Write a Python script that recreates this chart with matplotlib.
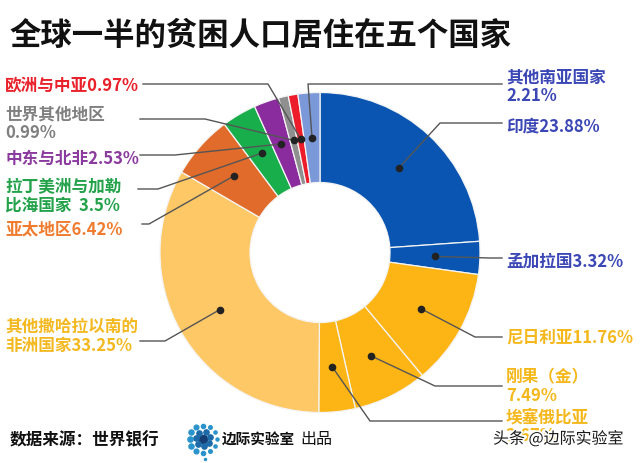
import numpy as np
import matplotlib
matplotlib.use("Agg")
import matplotlib.pyplot as plt
import matplotlib.patheffects as pe

plt.rcParams['font.family'] = ['Noto Sans CJK SC', 'DejaVu Sans']

# ---------------- data ----------------
categories = ['印度', '孟加拉国', '尼日利亚', '刚果（金）', '埃塞俄比亚',
              '其他撒哈拉以南的非洲国家', '亚太地区', '拉丁美洲与加勒比海国家',
              '中东与北非', '世界其他地区', '欧洲与中亚', '其他南亚国家']
values = [23.88, 3.32, 11.76, 7.49, 3.67, 33.25, 6.42, 3.5, 2.53, 0.99, 0.97, 2.21]
label_texts = ['印度23.88%', '孟加拉国3.32%', '尼日利亚11.76%', '刚果（金）\n7.49%',
               '埃塞俄比亚\n3.67%', '其他撒哈拉以南的\n非洲国家33.25%', '亚太地区6.42%',
               '拉丁美洲与加勒\n比海国家  3.5%', '中东与北非2.53%', '世界其他地区\n0.99%',
               '欧洲与中亚0.97%', '其他南亚国家\n2.21%']
title = '全球一半的贫困人口居住在五个国家'
source = '数据来源：世界银行'

# ---------------- style ----------------
slice_colors = ['#0a55b1', '#0a55b1', '#fcb515', '#fcb515', '#fcb515', '#fec866',
                '#e06b2a', '#19ae4c', '#8a2c9e', '#8f8f8f', '#ed1c2a', '#7b98d9']
text_colors = ['#3b47b5', '#3b47b5', '#f5b81c', '#f5b81c', '#f5b81c', '#f4b920',
               '#f07b2f', '#23a24a', '#8b3a9e', '#808080', '#e8212b', '#3b47b5']

# label layout in pixel coords: (text_x, text_y, ha, elbow_xy, end_xy)
layout = [
    (506, 127, 'left', (440, 124), (502, 124)),
    (506, 262, 'left', (490, 259), (502, 259)),
    (506, 338, 'left', (475, 338), (502, 338)),
    (506, 387, 'left', (435, 387), (502, 387)),
    (506, 427, 'left', (370, 422), (502, 422)),
    (5, 337, 'left', (165, 342), (140, 342)),
    (5, 230, 'left', (149, 225), (142, 225)),
    (5, 196, 'left', (158, 190), (138, 190)),
    (5, 159, 'left', (175, 156), (140, 156)),
    (5, 124, 'left', (205, 120), (140, 120)),
    (5, 85, 'left', (268, 85), (143, 85)),
    (506, 87, 'left', (308, 85), (502, 85)),
]

W, H = 640, 464
CX, CY, R = 320, 253.5, 160.0


def px(x, y):
    return ((x - CX) / R, (CY - y) / R)


fig = plt.figure(figsize=(6.4, 4.64), dpi=100)
ax = fig.add_axes([0, 0, 1, 1])

wedges, _ = ax.pie(values, radius=1, startangle=90, counterclock=False,
                   colors=slice_colors,
                   wedgeprops=dict(width=0.5625, edgecolor='#f4f4f4', linewidth=0.9))

ax.set_xlim(-CX / R, (W - CX) / R)
ax.set_ylim((CY - H) / R, CY / R)
ax.set_aspect('equal')
ax.axis('off')

r_dot = 0.72
for w, txt, tc, (tx, ty, ha, elbow, end) in zip(wedges, label_texts, text_colors, layout):
    ang = np.deg2rad((w.theta1 + w.theta2) / 2)
    dx, dy = r_dot * np.cos(ang), r_dot * np.sin(ang)
    ex, ey = px(*elbow)
    fx, fy = px(*end)
    ax.plot([dx, ex, fx], [dy, ey, fy], color='#555555', lw=1.0, zorder=3)
    ax.plot([dx], [dy], 'o', color='#222222', ms=4.5, zorder=4)
    x0, y0 = px(tx, ty)
    ax.text(x0, y0, txt, ha=ha, va='center', color=tc, fontsize=12,
            fontweight='bold', linespacing=1.05, zorder=5)

# title
fig.text(9 / W, 1 - 36 / H, title, ha='left', va='center', fontsize=22.6,
         fontweight='bold', color='#111111')

# source
fig.text(10 / W, 1 - 440 / H, source, ha='left', va='center', fontsize=12,
         fontweight='bold', color='#111111')

# logo (decorative dot cluster)
lx, ly = px(203, 440)
ax.plot([lx], [ly], 'o', color='#163d73', ms=6, zorder=5)
for i in range(7):
    a = 2 * np.pi * i / 7 + 0.3
    ax.plot([lx + 7.5 / R * np.cos(a)], [ly + 7.5 / R * np.sin(a)], 'o',
            color='#1d6aa8', ms=3.8, zorder=5)
for i in range(12):
    a = 2 * np.pi * i / 12
    s = 2.2 + 1.6 * (0.5 - 0.5 * np.cos(a))
    ax.plot([lx + 13.5 / R * np.cos(a)], [ly + 13.5 / R * np.sin(a)], 'o',
            color='#2a93cc', ms=s, zorder=5)
tx_, ty_ = px(205, 460)
ax.plot([tx_], [ty_], 'o', color='#2a93cc', ms=1.5, zorder=5)

fig.text(222 / W, 1 - 440 / H, '边际实验室', ha='left', va='center', fontsize=10.5,
         fontweight='bold', color='#111111')
fig.text(300 / W, 1 - 440 / H, '出品', ha='left', va='center', fontsize=11.5,
         color='#111111')

# watermark
fig.text(493 / W, 1 - 440 / H, '头条 @边际实验室', ha='left', va='center',
         fontsize=11.5, color='#1a1a1a',
         path_effects=[pe.withStroke(linewidth=2.5, foreground='white')])

fig.savefig('out.png', dpi=100)
